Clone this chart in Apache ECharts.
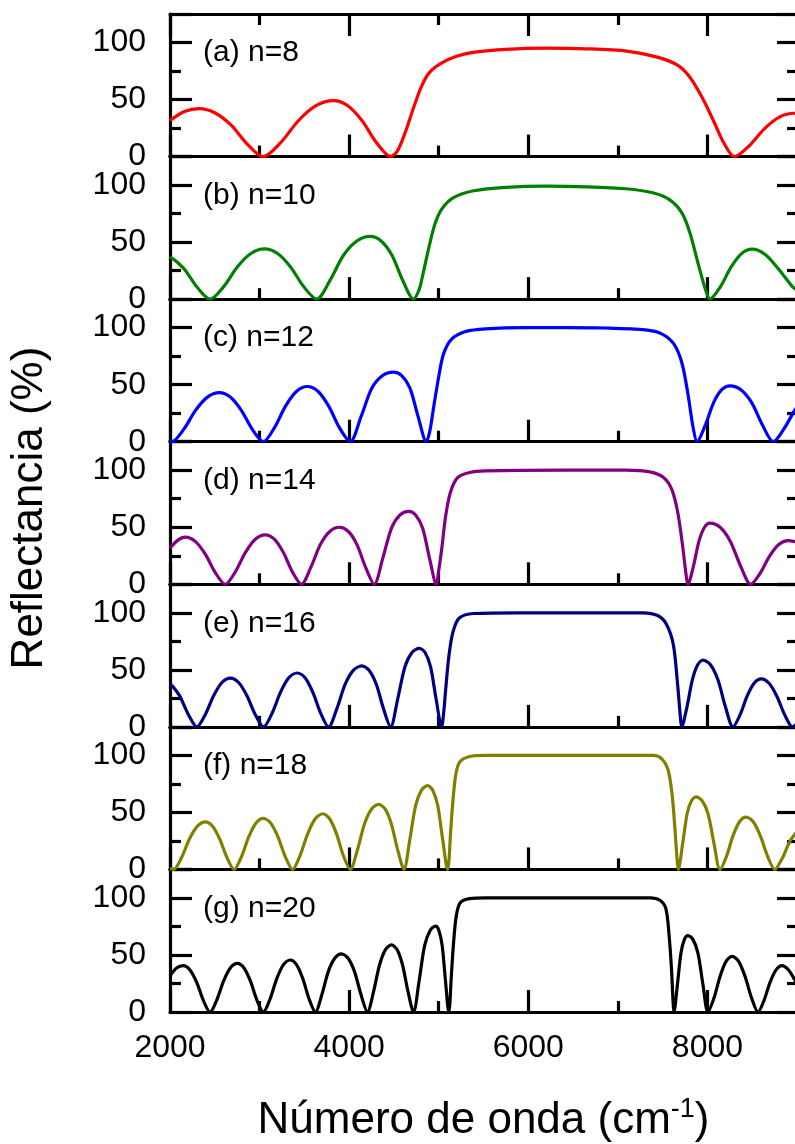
<!DOCTYPE html>
<html>
<head>
<meta charset="utf-8">
<script src="https://cdn.jsdelivr.net/npm/echarts@6/dist/echarts.min.js"></script>
<style>
  html, body { margin: 0; padding: 0; background: #ffffff; }
  #chart { width: 795px; height: 1144px; }
</style>
</head>
<body>
<div id="chart"></div>
<script>
// Reflectance spectra of Bragg mirrors with n periods: [wavenumber (cm^-1), reflectance (%)]
const reflN8 = [[2000,31.5],[2160,39.5],[2326,42],[2504,38.2],[2683,27.5],[2862,11],[3040,0],[3236,12.3],[3433,31.4],[3629,44.6],[3825,49],[3985,44.6],[4145,31.4],[4304,12.3],[4464,0],[4540,5],[4630,22],[4720,43],[4810,62],[4900,74],[5030,82],[5200,88],[5400,91.5],[5750,94],[6200,95],[6650,94.5],[7100,92.5],[7450,87],[7670,80],[7800,70],[7940,52],[8070,31],[8190,11],[8300,0],[8467,9.5],[8635,24.3],[8802,34.6],[8970,38],[9000,37.9]];
const reflN10 = [[2000,37],[2040,35],[2100,31],[2168,25.6],[2308,10],[2447,0],[2599,11],[2751,28.2],[2903,40],[3055,44],[3201,40],[3346,28.2],[3492,11],[3637,0],[3787,16.5],[3937,38.5],[4086,51],[4236,55],[4357,51],[4478,38.5],[4598,16.5],[4719,0],[4780,8],[4810,17],[4875,40],[4950,64],[5030,78.5],[5165,89],[5390,95],[5750,98],[6200,99],[6650,98.5],[7090,96.8],[7400,93],[7580,87],[7715,75.6],[7805,58],[7895,31.5],[7980,8],[8028,0],[8146,11],[8263,28],[8381,39.9],[8498,43.8],[8648,39],[8798,26],[8948,11],[9000,8]];
const reflN12 = [[2000,0.4],[2020,0],[2153,10.8],[2285,27.5],[2418,39.1],[2550,43],[2673,39.1],[2796,27.5],[2919,10.8],[3042,0],[3165,12.1],[3288,31],[3411,44],[3534,48.4],[3654,44],[3773,31],[3893,12.1],[4012,0],[4133,22],[4254,47],[4374,58],[4495,61],[4587,58],[4679,47],[4770,22],[4862,0],[4900,9],[4943,30],[5000,57],[5054,77],[5144,90],[5300,96.7],[5524,99],[5970,100],[6420,100],[6865,99.7],[7310,98],[7490,94.6],[7625,85.7],[7715,69],[7782,42],[7840,12.5],[7885,0],[7977,14.7],[8069,34.3],[8160,45.6],[8252,49],[8373,45.6],[8494,34.3],[8614,14.7],[8735,0],[8852,11],[8970,27],[9000,30]];
const reflN14 = [[2000,31.6],[2085,38.5],[2170,41.3],[2282,37.6],[2394,26.4],[2505,10.3],[2617,0],[2729,10.9],[2841,27.8],[2952,39.5],[3064,43.4],[3165,39.5],[3266,27.8],[3366,10.9],[3467,0],[3573,15],[3680,35],[3786,46.5],[3892,50],[3989,46.5],[4086,35],[4183,15],[4280,0],[4376,23],[4473,49.3],[4569,60.8],[4665,64],[4742,60.8],[4820,49.3],[4897,23],[4974,0],[5000,12],[5032,30],[5077,59.6],[5130,80.5],[5211,93.5],[5345,98],[5524,99.4],[6420,100],[7090,100],[7357,98.5],[7513,93.5],[7603,83],[7670,62.5],[7724,33],[7760,9.4],[7782,0],[7844,16],[7905,37.6],[7967,50],[8028,53.7],[8142,50],[8256,37.6],[8370,16],[8484,0],[8588,9.6],[8692,24.5],[8796,34.9],[8900,38.3],[9000,37]];
const reflN16 = [[2000,37.7],[2030,35.5],[2070,31.5],[2115,26.2],[2208,10.3],[2300,0],[2393,10.7],[2487,27.3],[2580,38.9],[2673,42.7],[2766,38.9],[2859,27.3],[2952,10.7],[3045,0],[3139,11.8],[3233,30.2],[3326,43],[3420,47.2],[3508,43],[3595,30.2],[3683,11.8],[3770,0],[3863,16],[3956,37.4],[4049,49.7],[4142,53.4],[4222,49.7],[4303,37.4],[4383,16],[4463,0],[4543,24.8],[4624,53],[4704,65.4],[4784,68.8],[4846,65.4],[4908,53],[4970,24.8],[5032,0],[5055,12],[5078,33],[5115,63],[5161,83.7],[5230,95.5],[5390,99.4],[5890,100],[7275,100],[7445,97.6],[7545,89.6],[7620,71.8],[7665,39],[7697,9.5],[7712,0],[7772,17.6],[7831,41],[7891,54.4],[7950,58.5],[8034,54.4],[8118,41],[8201,17.6],[8285,0],[8364,10.5],[8443,26.9],[8521,38.2],[8600,42],[8688,38.2],[8775,26.9],[8863,10.5],[8950,0],[9000,3]];
const reflN18 = [[2000,0.8],[2040,0],[2129,10.4],[2217,26.7],[2306,37.9],[2394,41.7],[2475,37.9],[2555,26.7],[2636,10.4],[2716,0],[2798,11.2],[2879,28.6],[2961,40.7],[3042,44.7],[3124,40.7],[3205,28.6],[3287,11.2],[3368,0],[3452,12.2],[3537,31.2],[3621,44.4],[3705,48.8],[3782,44.4],[3859,31.2],[3935,12.2],[4012,0],[4092,17.1],[4171,39.9],[4251,53],[4330,57],[4401,53],[4471,39.9],[4542,17.1],[4612,0],[4678,26.4],[4744,56.5],[4810,69.7],[4876,73.4],[4932,69.7],[4988,56.5],[5044,26.4],[5100,0],[5115,8],[5130,29],[5157,58.6],[5188,82],[5233,94],[5345,99],[5524,100],[7400,100],[7491,97],[7558,88],[7603,67.5],[7635,38],[7662,8],[7675,0],[7724,22.9],[7774,49],[7823,60.4],[7872,63.6],[7939,60.4],[8006,49],[8073,22.9],[8140,0],[8213,11.5],[8285,29.4],[8358,41.8],[8430,45.9],[8511,41.8],[8591,29.4],[8672,11.5],[8752,0],[8837,10],[8922,25],[9000,33]];
const reflN20 = [[2000,31.8],[2074,38.5],[2148,40.6],[2223,36.9],[2298,26],[2372,10.2],[2447,0],[2523,10.7],[2599,27.3],[2675,38.8],[2751,42.6],[2824,38.8],[2897,27.3],[2969,10.7],[3042,0],[3117,11.4],[3192,29.2],[3267,41.5],[3342,45.6],[3412,41.5],[3483,29.2],[3553,11.4],[3623,0],[3696,15.3],[3768,35.6],[3841,47.3],[3913,50.9],[3986,47.3],[4059,35.6],[4132,15.3],[4205,0],[4272,17.6],[4339,41.2],[4406,54.7],[4473,58.8],[4535,54.7],[4596,41.2],[4658,17.6],[4719,0],[4781,27.1],[4842,58],[4904,71.5],[4965,75.3],[5002,71.5],[5039,58],[5076,27.1],[5113,0],[5125,8],[5139,29],[5166,61],[5197,84.7],[5242,95.9],[5345,99.4],[5524,100],[7357,100],[7469,98],[7536,90.6],[7572,67],[7599,37.6],[7617,8],[7626,0],[7665,24.1],[7704,51.6],[7743,63.7],[7782,67],[7838,63.7],[7894,51.6],[7950,24.1],[8006,0],[8073,12.2],[8141,31.2],[8208,44.4],[8275,48.8],[8348,44.4],[8420,31.2],[8493,12.2],[8565,0],[8632,10.2],[8699,26],[8766,36.9],[8833,40.6],[8903,37],[8973,28.5],[9000,24]];

const panelLabels = ['(a) n=8', '(b) n=10', '(c) n=12', '(d) n=14', '(e) n=16', '(f) n=18', '(g) n=20'];
const panelData = [reflN8, reflN10, reflN12, reflN14, reflN16, reflN18, reflN20];
const lineColors = ['#ff0000', '#008000', '#0000ff', '#800080', '#000080', '#808000', '#000000'];
const yTickLabels = [0, 50, 100];
const xTitle = 'Número de onda (cm{sup|-1})';
const yTitle = 'Reflectancia (%)';

const FONT = '"Liberation Sans", Arial, Helvetica, sans-serif';
const PLOT_TOP = 14;
const PANEL_H = 142.57;
const PLOT_LEFT = 170;
const PLOT_W = 627;
const X_MIN = 2000, X_MAX = 9000, Y_MAX = 125;
const AXIS_W = 3.2;

const grids = [], xAxes = [], yAxes = [], series = [], graphics = [];

panelData.forEach((data, i) => {
  const top = PLOT_TOP + i * PANEL_H;
  const last = i === panelData.length - 1;
  grids.push({ left: PLOT_LEFT, top: top, width: PLOT_W, height: PANEL_H, outerBoundsMode: 'none', containLabel: false });

  const lineStyle = { color: '#000', width: AXIS_W };
  // bottom x axis
  xAxes.push({
    gridIndex: i, type: 'value', position: 'bottom', min: X_MIN, max: X_MAX, interval: 2000,
    axisLine: { show: true, onZero: false, lineStyle },
    axisTick: { show: true, inside: true, length: 22, lineStyle },
    minorTick: { show: true, splitNumber: 2, length: 11, lineStyle },
    axisLabel: {
      show: last, margin: 20, fontSize: 32, color: '#000', fontFamily: FONT,
      formatter: v => (v < X_MAX ? String(v) : '')
    },
    splitLine: { show: false }, minorSplitLine: { show: false },
    name: last ? xTitle : '', nameLocation: 'middle', nameGap: 84,
    nameTextStyle: {
      fontSize: 44, color: '#000', fontFamily: FONT, lineHeight: 50,
      rich: { sup: { fontSize: 27, fontFamily: FONT, color: '#000', verticalAlign: 'top', lineHeight: 30 } }
    }
  });
  // top x axis (frame)
  xAxes.push({
    gridIndex: i, type: 'value', position: 'top', min: X_MIN, max: X_MAX, interval: 2000,
    axisLine: { show: true, onZero: false, lineStyle },
    axisTick: { show: i === 0, inside: true, length: 22, lineStyle },
    minorTick: { show: i === 0, splitNumber: 2, length: 11, lineStyle },
    axisLabel: { show: false }, splitLine: { show: false }
  });
  // left y axis
  yAxes.push({
    gridIndex: i, type: 'value', position: 'left', min: 0, max: Y_MAX, interval: 50,
    axisLine: { show: true, onZero: false, lineStyle },
    axisTick: { show: true, inside: true, length: 22, lineStyle },
    minorTick: { show: true, splitNumber: 2, length: 11, lineStyle },
    axisLabel: {
      show: true, margin: 24, fontSize: 32, color: '#000', fontFamily: FONT,
      formatter: v => (yTickLabels.includes(v) ? String(v) : '')
    },
    splitLine: { show: false }
  });
  // right y axis (frame)
  yAxes.push({
    gridIndex: i, type: 'value', position: 'right', min: 0, max: Y_MAX, interval: 50,
    axisLine: { show: true, onZero: false, lineStyle },
    axisTick: { show: true, inside: true, length: 20, lineStyle },
    minorTick: { show: true, splitNumber: 2, length: 10, lineStyle },
    axisLabel: { show: false }, splitLine: { show: false }
  });

  series.push({
    type: 'line', xAxisIndex: 2 * i, yAxisIndex: 2 * i, data: data,
    showSymbol: false, smooth: 0.3, clip: true,
    lineStyle: { color: lineColors[i], width: 3.2 }, itemStyle: { color: lineColors[i] },
    z: 1
  });

  graphics.push({
    type: 'text', x: 203, y: top + 39,
    style: {
      text: panelLabels[i], fontSize: 30, fontFamily: FONT, fill: '#000',
      textAlign: 'left', textVerticalAlign: 'middle', align: 'left', verticalAlign: 'middle'
    }
  });
});

graphics.push({
  type: 'text', x: 30, y: 508, rotation: Math.PI / 2,
  style: {
    text: yTitle, fontSize: 44, fontFamily: FONT, fill: '#000',
    textAlign: 'center', textVerticalAlign: 'middle', align: 'center', verticalAlign: 'middle'
  }
});

const chart = echarts.init(document.getElementById('chart'), null, { renderer: 'canvas' });
chart.setOption({
  animation: false,
  backgroundColor: '#ffffff',
  grid: grids,
  xAxis: xAxes,
  yAxis: yAxes,
  series: series,
  graphic: graphics
});
</script>
</body>
</html>
